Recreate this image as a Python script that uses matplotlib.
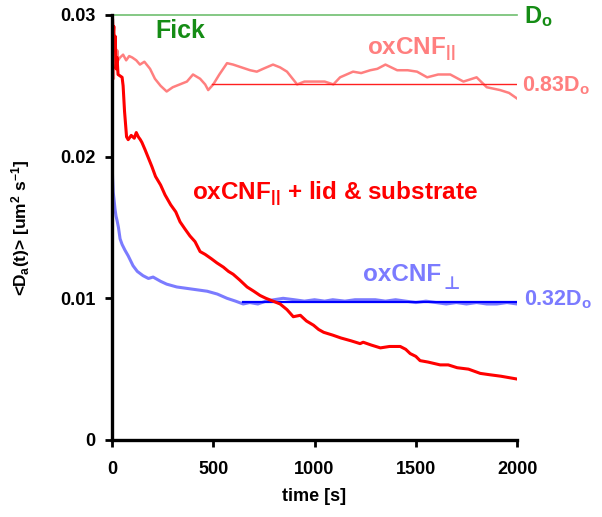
import numpy as np
import matplotlib
matplotlib.use('Agg')
import matplotlib.pyplot as plt

plt.rcParams['font.family'] = ['Liberation Sans', 'DejaVu Sans']
plt.rcParams['font.weight'] = 'bold'
plt.rcParams['mathtext.fontset'] = 'custom'
plt.rcParams['mathtext.rm'] = 'Liberation Sans:bold'
plt.rcParams['mathtext.it'] = 'Liberation Sans:bold'
plt.rcParams['mathtext.bf'] = 'Liberation Sans:bold'

# oxCNF parallel (free)
t_par = [0, 3, 6, 9, 12, 15, 18, 22, 26, 30, 40, 55, 70, 85, 100, 120, 138,
         160, 188, 212, 240, 270, 300, 335, 370, 400, 435, 460, 475, 500,
         530, 568, 598, 640, 682, 715, 746, 795, 830, 864, 914, 950, 1000,
         1050, 1093, 1126, 1190, 1230, 1275, 1310, 1350, 1408, 1460, 1506,
         1556, 1610, 1670, 1735, 1800, 1850, 1916, 1960, 2000]
d_par = [0.0300, 0.0258, 0.0290, 0.0255, 0.0285, 0.0262, 0.0280, 0.0265,
         0.0275, 0.0268, 0.0270, 0.0272, 0.0268, 0.0271, 0.0270, 0.0268,
         0.0265, 0.0267, 0.0262, 0.0255, 0.0250, 0.0246, 0.0249, 0.0251,
         0.0253, 0.0258, 0.0255, 0.0251, 0.0247, 0.0251, 0.0258, 0.0266,
         0.0265, 0.0263, 0.0261, 0.0260, 0.0262, 0.0265, 0.0263, 0.0260,
         0.0251, 0.0253, 0.0253, 0.0253, 0.0251, 0.0256, 0.0260, 0.0259,
         0.0261, 0.0262, 0.0265, 0.0261, 0.0261, 0.0260, 0.0256, 0.0258,
         0.0258, 0.0253, 0.0256, 0.0249, 0.0247, 0.0245, 0.0241]

# oxCNF parallel + lid & substrate
t_lid = [0, 3, 6, 9, 12, 16, 20, 25, 30, 40, 50, 55, 62, 72, 80, 95, 110,
         120, 130, 140, 148, 163, 180, 197, 215, 240, 262, 290, 315, 336,
         360, 385, 410, 435, 460, 490, 518, 550, 575, 598, 630, 667, 700,
         731, 760, 795, 830, 864, 895, 930, 960, 995, 1020, 1045, 1090,
         1130, 1180, 1225, 1240, 1280, 1325, 1370, 1423, 1450, 1472, 1500,
         1521, 1560, 1620, 1660, 1704, 1760, 1818, 1867, 1920, 1960, 2000]
d_lid = [0.0300, 0.0297, 0.0285, 0.0292, 0.0275, 0.0285, 0.0262, 0.0270,
         0.0258, 0.0257, 0.0256, 0.0250, 0.0232, 0.0214, 0.0212, 0.0215,
         0.0213, 0.0217, 0.0214, 0.0212, 0.0210, 0.0205, 0.0199, 0.0193,
         0.0186, 0.0180, 0.0173, 0.0166, 0.0161, 0.0154, 0.0149, 0.0144,
         0.0140, 0.0133, 0.0131, 0.0128, 0.0125, 0.0122, 0.0119, 0.0117,
         0.0113, 0.0108, 0.0105, 0.0102, 0.0100, 0.0098, 0.0096, 0.0092,
         0.0087, 0.0088, 0.0084, 0.0081, 0.0078, 0.0076, 0.0074, 0.0072,
         0.0070, 0.0068, 0.0069, 0.0067, 0.0065, 0.0066, 0.0066, 0.0064,
         0.0061, 0.0059, 0.0056, 0.0055, 0.0053, 0.0053, 0.0051, 0.0050,
         0.0047, 0.0046, 0.0045, 0.0044, 0.0043]

# oxCNF perpendicular
t_perp = [0, 3, 6, 10, 15, 20, 25, 32, 40, 50, 64, 80, 104, 125, 153, 180,
          203, 240, 270, 320, 370, 420, 470, 520, 568, 610, 648, 680, 720,
          760, 800, 845, 900, 950, 1000, 1050, 1090, 1150, 1200, 1250, 1300,
          1350, 1400, 1450, 1500, 1550, 1600, 1650, 1700, 1750, 1800, 1850,
          1900, 1950, 2000]
d_perp = [0.0201, 0.0185, 0.0175, 0.0170, 0.0163, 0.0158, 0.0155, 0.0150,
          0.0142, 0.0138, 0.0134, 0.0130, 0.0123, 0.0119, 0.0116, 0.0114,
          0.0115, 0.0112, 0.0110, 0.0108, 0.0107, 0.0106, 0.0105, 0.0103,
          0.0100, 0.0098, 0.0096, 0.0097, 0.0096, 0.0098, 0.0099, 0.0100,
          0.0099, 0.0098, 0.0099, 0.0098, 0.0099, 0.0098, 0.0099, 0.0099,
          0.0099, 0.0098, 0.0099, 0.0098, 0.0097, 0.0098, 0.0097, 0.0096,
          0.0097, 0.0096, 0.0097, 0.0096, 0.0096, 0.0097, 0.0096]

# fitted plateaus
D_fick = 0.0300
D_par_fit, t_par_fit = 0.0251, [495, 2000]
D_perp_fit, t_perp_fit = 0.00975, [648, 2000]

green_txt = '#158c15'
pink = '#ff7f7f'
lblue = '#7b7bff'

fig = plt.figure(figsize=(6.02, 5.17), dpi=100)
ax = fig.add_axes([0.186, 0.149, 0.673, 0.822])

ax.plot([0, 2000], [D_fick, D_fick], color='#6fbf6f', lw=1.2, clip_on=False)
ax.plot(t_par, d_par, color=pink, lw=1.8)
ax.plot(t_par_fit, [D_par_fit] * 2, color='#ff2020', lw=1.0)
ax.plot(t_perp, d_perp, color=lblue, lw=2.2)
ax.plot(t_perp_fit, [D_perp_fit] * 2, color='#0000ff', lw=1.6)
ax.plot(t_lid, d_lid, color='#ff0000', lw=2.2)

ax.set_xlim(0, 2000)
ax.set_ylim(0, 0.03)
ax.set_xticks([0, 500, 1000, 1500, 2000])
ax.set_yticks([0, 0.01, 0.02, 0.03])
ax.set_yticklabels(['0', '0.01', '0.02', '0.03'])
for s in ['top', 'right']:
    ax.spines[s].set_visible(False)
for s in ['left', 'bottom']:
    ax.spines[s].set_linewidth(2.4)
ax.tick_params(direction='out', length=5, width=2, labelsize=13)
ax.tick_params(axis='x', pad=10)
ax.tick_params(axis='y', pad=7)
for lab in ax.get_xticklabels() + ax.get_yticklabels():
    lab.set_fontweight('bold')

ax.set_xlabel('time [s]', fontsize=13, fontweight='bold')
ax.xaxis.set_label_coords(0.5, -0.112)
ax.set_ylabel(r'<D$_a$(t)> [um$^2$ s$^{-1}$]', fontsize=12.5,
              fontweight='bold')
ax.yaxis.set_label_coords(-0.198, 0.5)

ax.text(336, 0.0289, 'Fick', color=green_txt, fontsize=18, ha='center',
        va='center')
ax.text(2035, 0.0299, r'D$_o$', color=green_txt, fontsize=17, ha='left',
        va='center', clip_on=False)
ax.text(1259, 0.0276, r'oxCNF$_{||}$', color=pink, fontsize=17.5, ha='left',
        va='center')
ax.text(2025, 0.0250, r'0.83D$_o$', color=pink, fontsize=15.5, ha='left',
        va='center', clip_on=False)
ax.text(395, 0.0174, r'oxCNF$_{||}$ + lid & substrate', color='#ff0000',
        fontsize=17.5, ha='left', va='center')
ax.text(1240, 0.0117, 'oxCNF', color=lblue, fontsize=17.5,
        ha='left', va='center')
ax.annotate('\u22a5', xy=(1240, 0.0117), xytext=(58, -7),
            textcoords='offset points', color=lblue, fontsize=13,
            family='DejaVu Sans', fontweight='bold', ha='left', va='center')
ax.text(2035, 0.0099, r'0.32D$_o$', color=lblue, fontsize=15.5, ha='left',
        va='center', clip_on=False)

fig.savefig('out.png', dpi=100)
